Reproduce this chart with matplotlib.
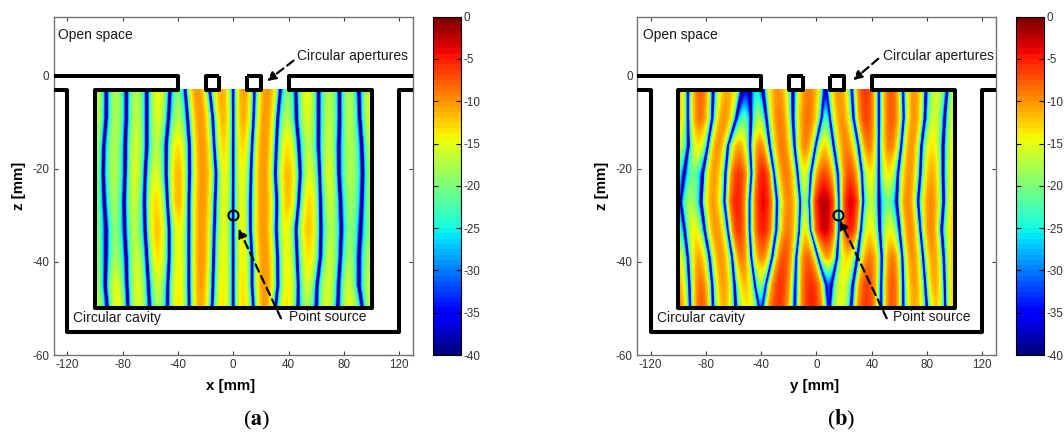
import numpy as np
import matplotlib
matplotlib.use("Agg")
import matplotlib.pyplot as plt

plt.rcParams["font.family"] = ["Liberation Sans", "DejaVu Sans"]
plt.rcParams["axes.unicode_minus"] = False
plt.rcParams["mathtext.fontset"] = "stix"

W, H = 1064, 436

# rows, z in mm
z_rows = [-3, -9, -15, -21, -27, -33, -39, -45, -50]

# null (dark blue) line positions in mm, one list per null, one value per row
nulls_a = [
    [-91.9, -91.9, -93.8, -94.3, -93.3, -91.9, -92.1, -92.6, -90.9],
    [-77.4, -77.4, -78.1, -78.1, -78.9, -78.6, -77.4, -76.9, -76.2],
    [-62.5, -62.5, -62.5, -63.7, -64.2, -63.7, -62.5, -61.3, -60.5],
    [-45.6, -46.8, -48.5, -48.5, -47.5, -46.3, -46.3, -47.3, -47.5],
    [-34.7, -33.0, -31.6, -31.6, -32.1, -32.1, -32.1, -32.1, -31.8],
    [-17.1, -14.7, -13.7, -12.3, -13.0, -13.7, -14.2, -14.7, -15.4],
    [0.0, 0.0, 0.0, 0.0, 0.0, 0.0, 0.0, 0.0, 0.0],
    [15.2, 14.7, 13.5, 12.8, 12.3, 12.3, 13.5, 13.5, 14.7],
    [34.0, 32.1, 31.1, 30.4, 31.6, 31.1, 32.1, 32.3, 30.4],
    [45.3, 45.6, 47.3, 48.5, 47.3, 45.3, 46.1, 47.0, 46.8],
    [61.7, 61.7, 61.7, 62.5, 63.0, 63.4, 63.0, 60.5, 60.0],
    [76.9, 76.9, 76.2, 76.2, 77.4, 78.1, 77.4, 76.2, 75.5],
    [90.7, 91.4, 93.1, 93.8, 93.1, 91.9, 90.7, 90.7, 93.6],
]

# level in dB at the middle of each lobe between the nulls (first and last at the wall)
peaks_a = [
    [-15, -16, -17, -18, -19, -19, -18, -17, -16],
    [-17.5, -17.5, -17.5, -17.5, -18.5, -19.5, -18.5, -15.5, -14.5],
    [-17.5, -17, -16, -15.5, -16.5, -17.5, -16.5, -15.5, -15.5],
    [-14.5, -15.5, -17.5, -15.5, -13, -12, -13.5, -16.5, -18.5],
    [-20, -17.5, -13.5, -11.5, -11.5, -14.5, -14.5, -14, -13.5],
    [-10, -10, -10, -10, -10, -10, -10, -10.5, -11],
    [-11, -11.5, -13, -14.5, -15, -15, -14.5, -14, -13.5],
    [-10.5, -11, -13, -14.5, -15, -14.5, -14, -13.5, -13],
    [-10, -10, -10, -10, -10, -10, -10, -10, -10.5],
    [-20, -17.5, -13.5, -11.5, -12, -14.5, -14.5, -14, -13.5],
    [-14.5, -15.5, -17.5, -15.5, -13, -12, -13.5, -16, -18.5],
    [-17.5, -17, -16.5, -15.5, -16.5, -17.5, -16.5, -16, -15.5],
    [-17.5, -17.5, -17.5, -17.5, -18.5, -19.5, -18.5, -16.5, -15],
    [-15, -15, -17, -18, -18, -19, -17, -16, -16],
]

nulls_b = [
    [-93.0, -93.0, -92.5, -95.9, -98.6, -95.4, -93.0, -91.8, -91.3],
    [-74.9, -75.4, -78.5, -82.1, -83.3, -80.9, -77.3, -75.4, -74.9],
    [-53.9, -58.0, -64.0, -65.7, -66.4, -64.0, -60.9, -59.2, -58.5],
    [-47.9, -47.2, -47.9, -46.9, -48.4, -48.4, -47.2, -44.3, -41.0],
    [-38.7, -36.3, -33.9, -30.8, -28.6, -29.1, -32.0, -36.8, -39.5],
    [-17.0, -17.0, -15.8, -13.4, -11.5, -12.2, -14.6, -15.3, -15.8],
    [6.1, 4.0, -0.6, -4.2, -5.4, -4.5, 1.1, 7.1, 8.8],
    [7.1, 9.5, 12.4, 15.6, 16.3, 16.3, 14.8, 10.7, 9.2],
    [25.7, 26.9, 30.5, 32.9, 33.6, 32.0, 29.6, 26.4, 25.2],
    [45.2, 45.2, 45.0, 45.0, 45.0, 45.7, 47.4, 46.9, 46.9],
    [62.6, 63.1, 61.4, 59.0, 58.3, 60.2, 62.1, 62.6, 62.6],
    [79.0, 78.3, 75.8, 75.1, 73.4, 75.1, 77.1, 78.8, 80.0],
    [94.7, 92.7, 91.5, 91.5, 92.0, 90.3, 92.0, 92.7, 93.2],
]

peaks_b = [
    [-12, -12, -16, -24, -30, -22, -14, -11, -9],
    [-8, -8.5, -14, -21, -18, -14.5, -11, -8.5, -7.5],
    [-11, -10, -10, -10.5, -10.5, -10, -10, -10.5, -11.5],
    [-36, -22, -11, -6, -5, -6, -9, -12, -14],
    [-26, -18, -9.5, -5, -4, -5, -9.5, -19, -32],
    [-10, -9, -9, -9, -9.5, -9, -7, -6, -6],
    [-9, -8.5, -9.5, -15, -19, -14, -8, -5.5, -5],
    [-38, -23, -13, -7, -2, -3, -11, -32, -36],
    [-10, -10, -9.5, -7, -3.5, -5, -13, -15, -15],
    [-6, -6.5, -9, -14, -17, -14, -9, -6.5, -6],
    [-7.5, -7.5, -9, -14, -21, -15, -9, -7.5, -7.5],
    [-10, -10, -10, -10, -9.5, -9.5, -10, -10.5, -11],
    [-16, -16, -13.5, -11, -9.5, -9.5, -10.5, -11, -13],
    [-16, -15, -14, -13, -12.5, -12, -12, -12, -12],
]

source_pos = [0, 15.3]
x_ticks = [-120, -80, -40, 0, 40, 80, 120]
z_ticks = [-60, -40, -20, 0]
cb_ticks = [0, -5, -10, -15, -20, -25, -30, -35, -40]

# how fast the level falls from a lobe's middle towards its null
lobe_frac = [0.08, 0.14, 0.2, 0.3, 0.45, 0.75, 1.0]
lobe_drop = [-28, -22, -15, -9, -4.5, -1, 0]


def px_rect(left, right, top, bottom):
    return [left / W, 1 - bottom / H, (right - left) / W, (bottom - top) / H]


def build_field(nulls, peaks):
    nulls = np.array(nulls, float)
    peaks = np.array(peaks, float)
    xs, vs = [], []
    for r in range(len(z_rows)):
        row_x, row_v = [-100.0], [peaks[0, r]]
        n = nulls[:, r]
        # left wall lobe, wall to first null
        for f, d in zip(lobe_frac[-2::-1], lobe_drop[-2::-1]):
            row_x.append(n[0] - f * (n[0] + 100))
            row_v.append(peaks[0, r] + d)
        for i in range(len(n)):
            row_x.append(n[i])
            row_v.append(-40)
            if i + 1 < len(n):
                right = n[i + 1]
                half = (right - n[i]) / 2
                p = peaks[i + 1, r]
                for f, d in zip(lobe_frac, lobe_drop):
                    row_x.append(n[i] + f * half)
                    row_v.append(p + d)
                for f, d in zip(lobe_frac[-2::-1], lobe_drop[-2::-1]):
                    row_x.append(right - f * half)
                    row_v.append(p + d)
            else:
                p = peaks[-1, r]
                for f, d in zip(lobe_frac, lobe_drop):
                    row_x.append(n[i] + f * (100 - n[i]))
                    row_v.append(p + d)
        xs.append(row_x)
        vs.append(row_v)
    X = np.array(xs)
    Z = np.repeat(np.array(z_rows, float)[:, None], X.shape[1], axis=1)
    V = np.clip(np.array(vs), -39.99, 0)
    return X, Z, V


def draw_walls(ax):
    st = dict(color="k", lw=2.9, solid_joinstyle="round", solid_capstyle="butt", zorder=5)
    for s in [-1, 1]:
        ax.plot([s * 130, s * 40, s * 40, s * 100, s * 100, -s * 100], [0, 0, -3, -3, -50, -50], **st)
        ax.plot([s * 130, s * 120, s * 120, -s * 120], [-3, -3, -55, -55], **st)
        ax.plot([s * 10, s * 20, s * 20, s * 10, s * 10], [0, 0, -3, -3, 0], **st)


def arrow(ax, tail, tip):
    ax.annotate("", xy=tip, xytext=tail, zorder=6,
                arrowprops=dict(arrowstyle="-|>", ls=(0, (3.6, 2.2)), lw=1.6, color="k",
                                shrinkA=0, shrinkB=0, mutation_scale=13))


def panel(left, nulls, peaks, src, xlab, tag, tag_x, arrow_src, arrow_ap, text_x):
    ax = fig.add_axes(px_rect(left, left + 359.5, 16.7, 355))
    X, Z, V = build_field(nulls, peaks)
    cf = ax.contourf(X, Z, V, levels=np.linspace(-40, 0, 65), cmap=plt.get_cmap("jet", 64),
                     vmin=-40, vmax=0, antialiased=False)
    draw_walls(ax)
    ax.plot(src, -30, "o", mfc="none", mec="k", ms=7.2, mew=1.5, zorder=7)
    arrow(ax, *arrow_src)
    arrow(ax, *arrow_ap)
    ax.set_xlim(-130, 130)
    ax.set_ylim(-60, 12.75)
    ax.set_xticks(x_ticks)
    ax.set_yticks(z_ticks)
    ax.tick_params(direction="in", top=True, right=True, length=3, width=0.8,
                   labelsize=8.4, color="0.25", labelcolor="0.2", pad=3)
    for sp in ax.spines.values():
        sp.set_color("0.45")
        sp.set_linewidth(1.0)

    fs = 10
    fig.text(text_x[0] / W, 1 - 35 / H, "Open space", fontsize=fs, va="center", color="0.1")
    fig.text(text_x[1] / W, 1 - 56 / H, "Circular apertures", fontsize=fs, va="center", color="0.1")
    fig.text(text_x[2] / W, 1 - 318 / H, "Circular cavity", fontsize=fs, va="center", color="0.1")
    fig.text(text_x[3] / W, 1 - 317 / H, "Point source", fontsize=fs, va="center", color="0.1")

    fig.text((left + 177.5) / W, 1 - 386 / H, xlab, fontsize=10.8, fontweight="bold", ha="center", va="center")
    fig.text((left - 35) / W, 1 - 186 / H, "z [mm]", fontsize=10.8, fontweight="bold",
             rotation=90, ha="center", va="center")
    fig.text(tag_x / W, 1 - 420 / H, tag, fontsize=16, ha="center", va="center",
             family=["Liberation Serif", "DejaVu Serif"])

    cax = fig.add_axes(px_rect(left + 379.7, left + 407.3, 16.7, 355))
    cb = fig.colorbar(cf, cax=cax, ticks=cb_ticks)
    cb.ax.set_yticklabels([str(t) for t in cb_ticks])
    cb.ax.tick_params(direction="in", left=True, right=True, length=3.5, width=0.8,
                      labelsize=8.4, labelcolor="0.2", pad=2)
    cb.outline.set_edgecolor("k")
    cb.outline.set_linewidth(0.8)


fig = plt.figure(figsize=(W / 100, H / 100), dpi=100)

panel(53.5, nulls_a, peaks_a, source_pos[0], "x [mm]", r"($\mathbf{a}$)", 256.7,
      ((34.5, -52.1), (3.9, -32.8)), ((43.6, 3.3), (24.4, -1.1)), [57.7, 296.7, 72.7, 289])
panel(636.7, nulls_b, peaks_b, source_pos[1], "y [mm]", r"($\mathbf{b}$)", 840.7,
      ((50.8, -52.1), (17.0, -31.0)), ((44.7, 3.7), (26.5, -0.9)), [642.7, 882.7, 656.7, 892.7])

fig.savefig("out.png", dpi=100)
print("Saved: out.png")
